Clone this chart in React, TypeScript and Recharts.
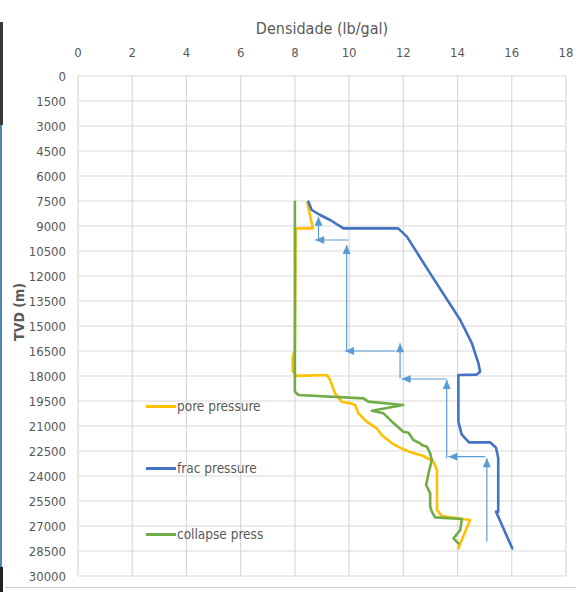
import { CartesianGrid, Scatter, ScatterChart, XAxis, YAxis } from 'recharts';

const densityTicks = [0, 2, 4, 6, 8, 10, 12, 14, 16, 18];
const depthTicks = [
  0, 1500, 3000, 4500, 6000, 7500, 9000, 10500, 12000, 13500, 15000,
  16500, 18000, 19500, 21000, 22500, 24000, 25500, 27000, 28500, 30000,
];

// [densidade lb/gal, TVD m]
const porePressure: [number, number][] = [
  [8.46, 7600], [8.66, 9140], [8.03, 9140], [8.0, 16400], [7.92, 16900], [7.92, 17700],
  [8.05, 17990], [9.18, 17940], [9.3, 18240], [9.48, 19040], [9.73, 19540], [10.04, 19640],
  [10.22, 19740], [10.34, 20240], [10.65, 20740], [11.02, 21140], [11.2, 21540], [11.58, 22040],
  [12.0, 22400], [12.25, 22560], [12.74, 22800], [13.11, 23140], [13.24, 23640], [13.24, 26040],
  [13.42, 26400], [14.46, 26640], [14.03, 28340],
];

const fracPressure: [number, number][] = [
  [8.5, 7540], [8.62, 8040], [8.93, 8340], [9.3, 8640], [9.79, 9140], [11.81, 9140],
  [12.13, 9640], [12.99, 11840], [14.1, 14640], [14.53, 16040], [14.77, 17240], [14.83, 17740],
  [14.7, 17920], [14.03, 17940], [14.03, 20730], [14.15, 21500], [14.42, 21980], [15.2, 21980],
  [15.42, 22300], [15.5, 22920], [15.5, 26140], [15.42, 26140], [16.02, 28350],
];

const collapsePress: [number, number][] = [
  [8.0, 7550], [8.0, 18940], [8.13, 19140], [10.53, 19340], [10.71, 19540], [12.0, 19740],
  [10.84, 20080], [11.27, 20240], [11.58, 20740], [12.0, 21340], [12.19, 21400], [12.37, 21840],
  [12.62, 22040], [12.68, 22140], [12.87, 22240], [12.99, 22640], [13.05, 23040], [12.93, 23840],
  [12.84, 24540], [12.99, 25040], [12.99, 25840], [13.05, 26140], [13.17, 26480], [14.16, 26580],
  [14.1, 27240], [13.85, 27740], [14.03, 28040],
];

// casing design arrows: [from density, from depth, to density, to depth]
const casingArrows: [number, number, number, number][] = [
  [8.87, 9840, 8.87, 8440],
  [9.97, 9840, 8.75, 9840],
  [9.91, 16440, 9.91, 10140],
  [11.7, 16500, 9.85, 16500],
  [11.88, 18140, 11.88, 16040],
  [13.6, 18180, 11.94, 18180],
  [13.6, 22940, 13.6, 18240],
  [15.02, 22840, 13.66, 22840],
  [15.08, 27940, 15.08, 22940],
];

const seriesList = [
  { name: 'pore pressure', color: '#FFC000', points: porePressure },
  { name: 'frac pressure', color: '#4472C4', points: fracPressure },
  { name: 'collapse press', color: '#70AD47', points: collapsePress },
];

const legendTops = [406, 468, 534];
const font = '"Liberation Sans Narrow", "DejaVu Sans Condensed", sans-serif';
const arrowColor = '#5B9BD5';

const toRows = (pts: [number, number][]) => pts.map(([x, y]) => ({ x, y }));

function ArrowTip(props: any) {
  const { cx, cy, payload } = props;
  if (!payload || !payload.dir || cx == null) return <g />;
  const L = 9;
  const W = 4;
  const pts =
    payload.dir === 'up'
      ? `${cx},${cy} ${cx - W},${cy + L} ${cx + W},${cy + L}`
      : `${cx},${cy} ${cx + L},${cy - W} ${cx + L},${cy + W}`;
  return <polygon points={pts} fill={arrowColor} />;
}

const noDot = () => <g />;

export default function App() {
  return (
    <div style={{ position: 'fixed', left: 0, top: 0, width: 576, height: 592, background: '#fff', fontFamily: font }}>
      <ScatterChart width={576} height={592} margin={{ top: 46, right: 10, bottom: 16, left: 28 }}>
        <CartesianGrid stroke="#D9D9D9" strokeWidth={1.2} />
        <XAxis
          type="number"
          dataKey="x"
          orientation="top"
          domain={[0, 18]}
          ticks={densityTicks}
          height={30}
          axisLine={false}
          tickLine={false}
          tickSize={0}
          tickMargin={19}
          tick={{ fontSize: 13, fill: '#595959', fontFamily: font }}
        />
        <YAxis
          type="number"
          dataKey="y"
          reversed
          domain={[0, 30000]}
          ticks={depthTicks}
          width={50}
          axisLine={false}
          tickLine={false}
          tickSize={0}
          tickMargin={12}
          interval={0}
          tick={{ fontSize: 13, fill: '#595959', fontFamily: font }}
        />
        {casingArrows.map(([x1, y1, x2, y2], i) => (
          <Scatter
            key={'a' + i}
            data={[{ x: x1, y: y1 }, { x: x2, y: y2, dir: x1 === x2 ? 'up' : 'left' }]}
            fill={arrowColor}
            line={{ stroke: arrowColor, strokeWidth: 1.2, fill: 'none' }}
            shape={ArrowTip}
            isAnimationActive={false}
          />
        ))}
        {seriesList.map((s) => (
          <Scatter
            key={s.name}
            name={s.name}
            data={toRows(s.points)}
            fill="none"
            line={{ stroke: s.color, strokeWidth: 2.6, fill: 'none', strokeLinejoin: 'round', strokeLinecap: 'round' }}
            shape={noDot}
            isAnimationActive={false}
          />
        ))}
      </ScatterChart>

      <div style={{ position: 'absolute', left: 222, width: 200, top: 19, textAlign: 'center', fontSize: 16, color: '#595959' }}>
        Densidade (lb/gal)
      </div>
      <div
        style={{
          position: 'absolute',
          left: 19,
          top: 312,
          transform: 'translate(-50%, -50%) rotate(-90deg)',
          fontSize: 14,
          fontWeight: 'bold',
          color: '#595959',
          whiteSpace: 'nowrap',
        }}
      >
        TVD (m)
      </div>
      {seriesList.map((s, i) => (
        <div key={s.name} style={{ position: 'absolute', left: 146, top: legendTops[i] - 9, height: 18, display: 'flex', alignItems: 'center' }}>
          <div style={{ width: 30, height: 3, background: s.color }} />
          <span style={{ fontSize: 13.5, color: '#595959', marginLeft: 1 }}>{s.name}</span>
        </div>
      ))}

      <div style={{ position: 'absolute', left: 0, top: 22, width: 3, height: 103, background: '#3a3a3a' }} />
      <div style={{ position: 'absolute', left: 0, top: 125, width: 2, height: 442, background: '#4f86ad' }} />
      <div style={{ position: 'absolute', left: 0, top: 567, width: 3, height: 25, background: '#222' }} />
      <div style={{ position: 'absolute', left: 5, top: 587, width: 571, height: 1, background: '#cfcfcf' }} />
    </div>
  );
}
